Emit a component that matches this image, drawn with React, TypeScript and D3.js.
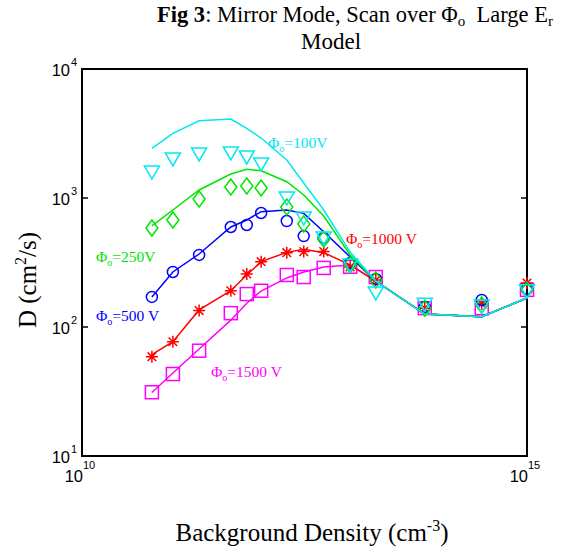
import * as d3 from "d3";

// background density (cm^-3) where the model and the points are evaluated
const density = [6.1e10, 1.05e11, 2.07e11, 4.7e11, 7.1e11, 1.03e12, 2.0e12, 3.1e12, 5.2e12, 1.03e13, 2.0e13, 7.1e13, 3.1e14, 1e15];

// points (markers) and model curve (lines), D in cm^2/s
const pts100 = [1619, 2043, 2234, 2274, 2118, 1868, 1018, 712, 499, 308, 187, 153, 148, 194];
const line100 = [2427, 3174, 3970, 4090, 3467, 2917, 1972, 1306, 807, 381, 227, 126, 120, 168];

const pts250 = [585, 675, 982, 1216, 1239, 1196, 851, 629, 481, 303, 231, 140, 148, 194];
const line250 = [607, 807, 1154, 1535, 1669, 1628, 1337, 1055, 725, 362, 227, 126, 120, 168];

const pts500 = [171, 267, 362, 596, 618, 765, 663, 507, 490, 314, 236, 143, 162, 197];
const line500 = [171, 267, 368, 596, 675, 783, 807, 760, 548, 349, 227, 126, 120, 168];

const pts1000 = [58.9, 76.9, 134, 191, 258, 321, 377, 384, 384, 292, 231, 140, 151, 219];
const line1000 = [61, 76.9, 135.6, 191, 253, 321, 379, 400, 377, 303, 227, 126, 120, 168];

const pts1500 = [31.2, 43.2, 65.5, 128, 180, 191, 253, 244, 287, 293, 244, 140, 140, 194];
const line1500 = [31.1, 44, 67.5, 113, 153, 190, 240, 267, 292, 303, 227, 126, 120, 168];

const yTicks = [1e1, 1e2, 1e3, 1e4];

const series = [
  { name: "1500 V", pts: pts1500, line: line1500, color: "#ff00ff", marker: "square" },
  { name: "1000 V", pts: pts1000, line: line1000, color: "#ff0000", marker: "star" },
  { name: "500 V", pts: pts500, line: line500, color: "#0000ff", marker: "circle" },
  { name: "250V", pts: pts250, line: line250, color: "#00e600", marker: "diamond" },
  { name: "100V", pts: pts100, line: line100, color: "#00e8f0", marker: "triangle" },
];

const W = 576;
const H = 552;
const left = 82;
const right = 527;
const top = 69;
const bottom = 456;

const serif = "'Liberation Serif', 'Times New Roman', serif";
const sans = "'Liberation Sans', Arial, sans-serif";

function Marker({ type, x, y, color }: { type: string; x: number; y: number; color: string }) {
  const s = { fill: "none", stroke: color, strokeWidth: 1.5 };
  if (type === "circle") return <circle cx={x} cy={y} r={5.5} {...s} />;
  if (type === "square") return <rect x={x - 6.5} y={y - 6.5} width={13} height={13} {...s} />;
  if (type === "diamond")
    return <path d={`M${x},${y - 8}L${x + 6},${y}L${x},${y + 8}L${x - 6},${y}Z`} {...s} />;
  if (type === "triangle")
    return <path d={`M${x - 7.5},${y - 5}L${x + 7.5},${y - 5}L${x},${y + 8}Z`} {...s} />;
  // asterisk
  const a = 6;
  const b = 4.3;
  return (
    <path
      d={`M${x - a},${y}L${x + a},${y}M${x},${y - a}L${x},${y + a}M${x - b},${y - b}L${x + b},${y + b}M${x - b},${y + b}L${x + b},${y - b}`}
      {...s}
    />
  );
}

function Phi({ x, y, color, text }: { x: number; y: number; color: string; text: string }) {
  return (
    <text x={x} y={y} fill={color} fontFamily={serif} fontSize={15.5}>
      Φ
      <tspan fontSize={10} dy={4}>o</tspan>
      <tspan dy={-4}>={text}</tspan>
    </text>
  );
}

export default function App() {
  const x = d3.scaleLog().domain([1e10, 1e15]).range([left, right]);
  const y = d3.scaleLog().domain([1e1, 1e4]).range([bottom, top]);

  const line = d3
    .line<number>()
    .x((_, i) => x(density[i]))
    .y((d) => y(d));

  return (
    <svg width={W} height={H} style={{ position: "absolute", left: 0, top: 0, background: "#fff" }}>
      {/* title */}
      <text x={157} y={22} fontFamily={serif} fontSize={22.5}>
        <tspan fontWeight="bold">Fig 3</tspan>: Mirror Mode, Scan over Φ
        <tspan fontSize={15} dy={4}>o</tspan>
        <tspan dy={-4}>{"\u00a0 Large E"}</tspan>
        <tspan fontSize={15} dy={4}>r</tspan>
      </text>
      <text x={331} y={49} textAnchor="middle" fontFamily={serif} fontSize={23}>
        Model
      </text>

      {/* axes box */}
      <rect x={left} y={top} width={right - left} height={bottom - top} fill="none" stroke="#000" strokeWidth={2} />
      {yTicks.map((t) => (
        <g key={t}>
          <line x1={left} x2={left + 6} y1={y(t)} y2={y(t)} stroke="#000" strokeWidth={1.5} />
          <line x1={right} x2={right - 6} y1={y(t)} y2={y(t)} stroke="#000" strokeWidth={1.5} />
          <text x={70} y={y(t) + 7} textAnchor="end" fontFamily={sans} fontSize={16.5}>
            10
          </text>
          <text x={71} y={y(t) - 3} fontFamily={sans} fontSize={11}>
            {Math.round(Math.log10(t))}
          </text>
        </g>
      ))}
      {[1e10, 1e15].map((t) => (
        <g key={t}>
          <text x={x(t) + 1} y={482} textAnchor="end" fontFamily={sans} fontSize={16.5}>
            10
          </text>
          <text x={x(t) + 1} y={469} fontFamily={sans} fontSize={11}>
            {Math.round(Math.log10(t))}
          </text>
        </g>
      ))}

      {/* data */}
      {series.map((s) => (
        <g key={s.name}>
          {s.pts.map((v, i) => (
            <Marker key={i} type={s.marker} x={x(density[i])} y={y(v)} color={s.color} />
          ))}
          <path d={line(s.line) || ""} fill="none" stroke={s.color} strokeWidth={1.5} />
        </g>
      ))}

      {/* curve labels */}
      <Phi x={268} y={148} color="#00e8f0" text="100V" />
      <Phi x={96} y={262} color="#00e600" text="250V" />
      <Phi x={96} y={321} color="#0000ff" text="500 V" />
      <Phi x={346} y={244} color="#ff0000" text="1000 V" />
      <Phi x={211} y={377} color="#ff00ff" text="1500 V" />

      {/* axis labels */}
      <text x={312} y={541} textAnchor="middle" fontFamily={serif} fontSize={25}>
        Background Density (cm
        <tspan fontSize={16} dy={-10}>-3</tspan>
        <tspan dy={10}>)</tspan>
      </text>
      <text
        transform={`translate(36, 280) rotate(-90)`}
        textAnchor="middle"
        fontFamily={serif}
        fontSize={25}
      >
        D (cm
        <tspan fontSize={16} dy={-10}>2</tspan>
        <tspan dy={10}>/s)</tspan>
      </text>
    </svg>
  );
}
